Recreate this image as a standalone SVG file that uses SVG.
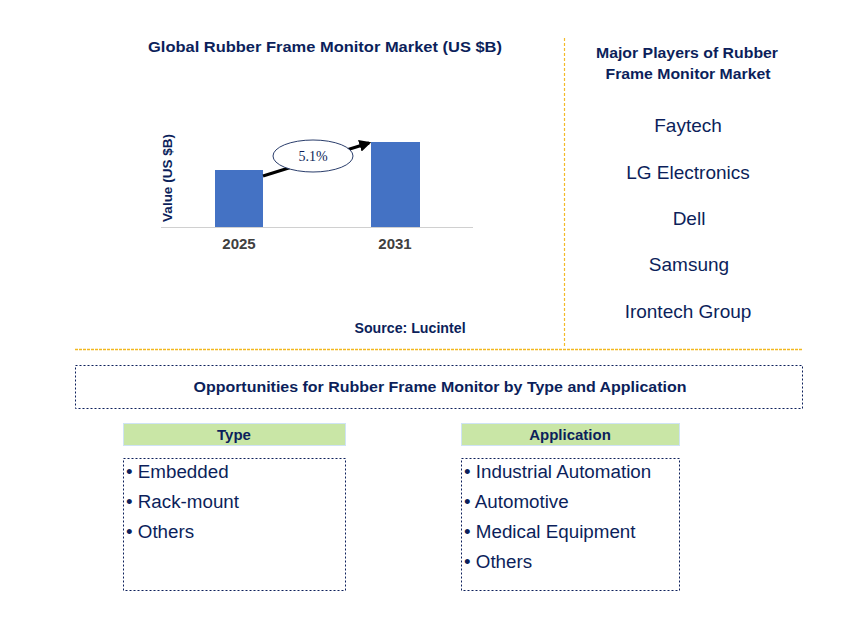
<svg xmlns="http://www.w3.org/2000/svg" width="868" height="632" viewBox="0 0 868 632">
<style>
.t{font-family:"Liberation Sans",Arial,sans-serif;fill:#0c1f5b}
.b{font-weight:bold}
.h{font-size:15px;font-weight:bold}
.p{font-size:19px;text-anchor:middle}
.li{font-size:18.8px}
.yr{font-family:"Liberation Sans",Arial,sans-serif;font-size:15px;font-weight:bold;fill:#404040;text-anchor:middle}
.sep{stroke:#f3bb2a;stroke-width:1.2;stroke-dasharray:3,2;fill:none}
.sepH{stroke:#f2b820;stroke-width:1.6;stroke-dasharray:3,1;fill:none}
.box{fill:none;stroke:#0c1f5b;stroke-width:1;stroke-dasharray:2,2}
.hdr{fill:#c9e6a6;stroke:#cfe3f5;stroke-width:1}
.bar{fill:#4472c4}
</style>
<defs>
<marker id="ah" viewBox="0 0 10 10" refX="8" refY="5" markerWidth="4" markerHeight="4" orient="auto" markerUnits="strokeWidth">
<path d="M0,0 L10,5 L0,10 z" fill="#000"/>
</marker>
</defs>
<rect width="868" height="632" fill="#fff"/>

<g id="chart">
<text class="t h" x="325" y="52" text-anchor="middle" textLength="354" lengthAdjust="spacingAndGlyphs">Global Rubber Frame Monitor Market (US $B)</text>
<line x1="161" y1="227.5" x2="473" y2="227.5" stroke="#d0d0d0" stroke-width="1"/>
<rect class="bar" x="215" y="170" width="48" height="57"/>
<rect class="bar" x="371" y="142" width="49" height="85"/>
<text class="t b" font-size="13.5" transform="translate(172,178) rotate(-90)" text-anchor="middle">Value (US $B)</text>
<text class="yr" x="239" y="249">2025</text>
<text class="yr" x="395" y="249">2031</text>
<text class="t b" x="410" y="333" font-size="14.2" text-anchor="middle">Source: Lucintel</text>
</g>

<g id="connectors">
<line x1="263" y1="176" x2="369" y2="143" stroke="#000" stroke-width="3" marker-end="url(#ah)"/>
<line class="sep" x1="564.5" y1="38" x2="564.5" y2="347"/>
<line class="sepH" x1="75" y1="349.5" x2="802" y2="349.5"/>
</g>

<g id="cagr">
<ellipse cx="313" cy="156" rx="40" ry="16" fill="#fff" stroke="#2a3d6b" stroke-width="1"/>
<text x="313" y="161" font-family="'Liberation Serif','Times New Roman',serif" font-size="14" fill="#0c1f5b" text-anchor="middle">5.1%</text>
</g>

<g id="players">
<text class="t h" x="687" y="58" text-anchor="middle" textLength="182" lengthAdjust="spacingAndGlyphs">Major Players of Rubber</text>
<text class="t h" x="688" y="79" text-anchor="middle" textLength="165" lengthAdjust="spacingAndGlyphs">Frame Monitor Market</text>
<text class="t p" x="688" y="132">Faytech</text>
<text class="t p" x="688" y="179">LG Electronics</text>
<text class="t p" x="689" y="225">Dell</text>
<text class="t p" x="689" y="271">Samsung</text>
<text class="t p" x="688" y="318">Irontech Group</text>
</g>

<g id="opportunities">
<rect class="box" x="75.5" y="365.5" width="727" height="43"/>
<text class="t h" x="440" y="392" text-anchor="middle" textLength="493" lengthAdjust="spacingAndGlyphs">Opportunities for Rubber Frame Monitor by Type and Application</text>
</g>

<g id="type">
<rect class="hdr" x="123.5" y="423.5" width="222" height="22"/>
<text class="t h" x="234" y="440" text-anchor="middle" font-size="15.5">Type</text>
<rect class="box" x="123.5" y="458.5" width="222" height="132"/>
<text class="t li" x="126" y="478">• Embedded</text>
<text class="t li" x="126" y="508">• Rack-mount</text>
<text class="t li" x="126" y="538">• Others</text>
</g>

<g id="application">
<rect class="hdr" x="461.5" y="423.5" width="218" height="22"/>
<text class="t h" x="570" y="440" text-anchor="middle" font-size="15.5">Application</text>
<rect class="box" x="461.5" y="458.5" width="218" height="132"/>
<text class="t li" x="464" y="478">• Industrial Automation</text>
<text class="t li" x="464" y="508">• Automotive</text>
<text class="t li" x="464" y="538">• Medical Equipment</text>
<text class="t li" x="464" y="568">• Others</text>
</g>
</svg>
